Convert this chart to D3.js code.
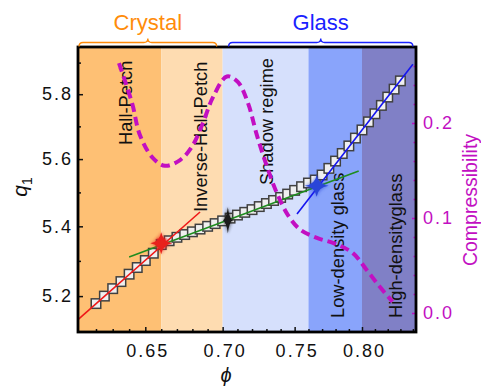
<!DOCTYPE html>
<html>
<head>
<meta charset="utf-8">
<script src="https://cdn.jsdelivr.net/npm/d3@7"></script>
<style>
  html, body { margin: 0; padding: 0; background: #fff; }
  svg { display: block; }
  text { font-family: "Liberation Sans", Arial, Helvetica, sans-serif; }
</style>
</head>
<body>
<svg id="chart" width="481" height="386"></svg>
<script>
// ---------------- data ----------------
const phiValues = [0.620,0.625,0.630,0.635,0.640,0.645,0.650,0.655,0.660,0.665,0.670,0.675,0.680,0.685,0.690,0.695,0.700,0.705,0.710,0.715,0.720,0.725,0.730,0.735,0.740,0.745,0.750,0.755,0.760,0.765,0.770,0.775,0.780,0.785,0.790,0.795,0.800,0.805,0.810,0.815,0.820,0.825,0.830];
const q1Values = [5.179,5.200,5.221,5.241,5.262,5.281,5.301,5.322,5.347,5.358,5.368,5.376,5.384,5.392,5.400,5.408,5.416,5.424,5.433,5.441,5.449,5.458,5.467,5.476,5.485,5.495,5.506,5.517,5.528,5.537,5.552,5.572,5.594,5.617,5.640,5.664,5.689,5.714,5.739,5.765,5.791,5.816,5.842];

const compPhi = [0.6338,0.6418,0.6467,0.6548,0.6624,0.6720,0.6797,0.6869,0.6935,0.7029,0.7104,0.7172,0.7234,0.7304,0.7374,0.7452,0.7538,0.7662,0.7795,0.7931,0.8038,0.8141,0.8237];
const compValues = [0.263,0.221,0.187,0.163,0.155,0.161,0.175,0.200,0.227,0.249,0.243,0.221,0.187,0.154,0.126,0.103,0.088,0.079,0.073,0.063,0.045,0.027,0.012];

const redFitPhi = [0.6094, 0.685];
const redFitQ = [5.134, 5.442];
const greenFitPhi = [0.640, 0.7975];
const greenFitQ = [5.311, 5.564];
const blueFitPhi = [0.7517, 0.840];
const blueFitQ = [5.436, 5.895];

const starPhi = [0.660, 0.7035, 0.766];
const starQ = [5.351, 5.418, 5.520];

const regimeBounds = [0.6094, 0.66, 0.70, 0.76, 0.80, 0.8425];
const regimeNames = ["Hall-Petch", "Inverse-Hall-Petch", "Shadow regime", "Low-density glass", "High-densityglass"];
const phaseNames = ["Crystal", "Glass"];
const phaseRanges = [[0.6100, 0.6960], [0.7040, 0.8400]];

const xMajorTicks = [0.65, 0.70, 0.75, 0.80];
const xMinorTicks = [0.62,0.63,0.64,0.66,0.67,0.68,0.69,0.71,0.72,0.73,0.74,0.76,0.77,0.78,0.79,0.81,0.82,0.83,0.84];
const yMajorTicks = [5.2, 5.4, 5.6, 5.8];
const yMinorTicks = [5.3, 5.5, 5.7, 5.9];
const y2MajorTicks = [0.0, 0.1, 0.2];
const y2MinorTicks = [0.02,0.04,0.06,0.08,0.12,0.14,0.16,0.18,0.22,0.24,0.26];

// ---------------- styles ----------------
const bandColors = ["#fec074", "#fedcb1", "#d6e0fc", "#89a4fb", "#8080c6"];
const phaseColors = ["#ff8c0a", "#1a22ff"];
const magenta = "#c20fc2";

const L = 78, R = 416, T = 47, B = 332;

const svg = d3.select("#chart");
const defs = svg.append("defs");
defs.append("filter").attr("id", "blur").attr("x", "-50%").attr("y", "-50%").attr("width", "200%").attr("height", "200%")
  .append("feGaussianBlur").attr("stdDeviation", 1.8);
defs.append("filter").attr("id", "soft").attr("x", "-50%").attr("y", "-50%").attr("width", "200%").attr("height", "200%")
  .append("feGaussianBlur").attr("stdDeviation", 0.5);

const x = d3.scaleLog().domain([0.6094, 0.8425]).range([L, R]);
const y = d3.scaleLog().domain([5.10, 5.95]).range([B, T]);
const y2 = d3.scaleLinear().domain([-0.02, 0.28]).range([B, T]);

// bands
const bands = svg.append("g");
for (let i = 0; i < regimeNames.length; i++) {
  bands.append("rect")
    .attr("x", x(regimeBounds[i]))
    .attr("y", T)
    .attr("width", x(regimeBounds[i + 1]) - x(regimeBounds[i]))
    .attr("height", B - T)
    .attr("fill", bandColors[i]);
}

// regime labels (rotated)
const labelSpecs = [
  { phi: 0.6415, y: 145, anchor: "start" },
  { phi: 0.6896, y: 212, anchor: "start" },
  { phi: 0.7348, y: 185, anchor: "start" },
  { phi: 0.7863, y: 318, anchor: "start" },
  { phi: 0.8311, y: 318, anchor: "start" }
];
regimeNames.forEach((name, i) => {
  const s = labelSpecs[i];
  svg.append("text")
    .attr("transform", `translate(${x(s.phi)},${s.y}) rotate(-90)`)
    .attr("text-anchor", s.anchor)
    .attr("font-size", 18.3)
    .attr("fill", "#111")
    .text(name);
});

// squares
const sq = 9.5;
svg.append("g").selectAll("rect")
  .data(phiValues.map((p, i) => [p, q1Values[i]]))
  .join("rect")
  .attr("x", d => x(d[0]) - sq / 2)
  .attr("y", d => y(d[1]) - sq / 2)
  .attr("width", sq).attr("height", sq)
  .attr("fill", "#efefef")
  .attr("stroke", "#404040")
  .attr("stroke-width", 1.5);

// fit lines
const line = d3.line().x(d => x(d[0])).y(d => y(d[1]));
[[redFitPhi, redFitQ, "#f01818"], [greenFitPhi, greenFitQ, "#1f8c1f"], [blueFitPhi, blueFitQ, "#1414f0"]]
  .forEach(([ps, qs, c]) => {
    svg.append("path")
      .attr("d", line(ps.map((p, i) => [p, qs[i]])))
      .attr("stroke", c).attr("stroke-width", 1.6).attr("fill", "none");
  });

// stars
function sparkle(rx, ry, w) {
  return `M0,${-ry} Q${w},${-w} ${rx},0 Q${w},${w} 0,${ry} Q${-w},${w} ${-rx},0 Q${-w},${-w} 0,${-ry} Z`;
}
const starStyles = [
  { color: "#e8201c", parts: [[11, 11, 1.6, 0], [7, 7, 1.2, 45]] },
  { color: "#1a1a1a", parts: [[5, 13, 1.4, 0]] },
  { color: "#2a45d8", parts: [[12, 11, 1.3, 0]] }
];
starPhi.forEach((p, i) => {
  const g = svg.append("g").attr("transform", `translate(${x(p)},${y(starQ[i])})`);
  const st = starStyles[i];
  st.parts.forEach(([rx, ry, w, rot]) => {
    g.append("path").attr("d", sparkle(rx, ry, w * 2.5)).attr("transform", `rotate(${rot})`)
      .attr("fill", st.color).attr("opacity", 0.45).attr("filter", "url(#blur)");
    g.append("path").attr("d", sparkle(rx, ry, w)).attr("transform", `rotate(${rot})`)
      .attr("fill", st.color).attr("filter", "url(#soft)");
  });
});

// compressibility dashed curve
const cLine = d3.line().x(d => x(d[0])).y(d => y2(d[1])).curve(d3.curveCatmullRom.alpha(0.5));
svg.append("path")
  .attr("d", cLine(compPhi.map((p, i) => [p, compValues[i]])))
  .attr("fill", "none").attr("stroke", magenta).attr("stroke-width", 4)
  .attr("stroke-dasharray", "9,5");

// axes
const tickFont = 18;
function styleAxis(g, color) {
  g.select(".domain").remove();
  g.selectAll("line").attr("stroke", color).attr("stroke-width", 1.5);
  g.selectAll("text").attr("font-size", tickFont).attr("font-family", "Liberation Sans, Arial, sans-serif")
    .attr("letter-spacing", "2px").attr("fill", color);
}
// left
svg.append("g").attr("transform", `translate(${L},0)`)
  .call(d3.axisLeft(y).tickValues(yMajorTicks).tickSize(-5).tickPadding(5).tickFormat(d3.format(".1f")))
  .call(g => styleAxis(g, "#111"));
svg.append("g").attr("transform", `translate(${L},0)`)
  .call(d3.axisLeft(y).tickValues(yMinorTicks).tickSize(-3).tickFormat(""))
  .call(g => styleAxis(g, "#111"));
// bottom
svg.append("g").attr("transform", `translate(0,${B})`)
  .call(d3.axisBottom(x).tickValues(xMajorTicks).tickSize(-5).tickPadding(12).tickFormat(d3.format(".2f")))
  .call(g => { styleAxis(g, "#111"); g.selectAll("text").attr("dx", "2"); });
svg.append("g").attr("transform", `translate(0,${B})`)
  .call(d3.axisBottom(x).tickValues(xMinorTicks).tickSize(-3).tickFormat(""))
  .call(g => styleAxis(g, "#111"));
// right
svg.append("g").attr("transform", `translate(${R},0)`)
  .call(d3.axisRight(y2).tickValues(y2MajorTicks).tickSize(-4).tickPadding(7).tickFormat(d3.format(".1f")))
  .call(g => styleAxis(g, magenta));
svg.append("g").attr("transform", `translate(${R},0)`)
  .call(d3.axisRight(y2).tickValues(y2MinorTicks).tickSize(-2.5).tickFormat(""))
  .call(g => styleAxis(g, magenta));

// frame
svg.append("rect").attr("x", L).attr("y", T).attr("width", R - L).attr("height", B - T)
  .attr("fill", "none").attr("stroke", "#000").attr("stroke-width", 2.8);

// phase braces and names
function brace(x0, x1, y0) {
  const xm = (x0 + x1) / 2, r = 4;
  return `M${x0},${y0 + r} Q${x0},${y0} ${x0 + r},${y0} L${xm - r},${y0} Q${xm},${y0} ${xm},${y0 - r} ` +
         `Q${xm},${y0} ${xm + r},${y0} L${x1 - r},${y0} Q${x1},${y0} ${x1},${y0 + r}`;
}
phaseNames.forEach((n, i) => {
  const x0 = x(phaseRanges[i][0]), x1 = x(phaseRanges[i][1]);
  svg.append("path").attr("d", brace(x0, x1, 42.5)).attr("fill", "none")
    .attr("stroke", phaseColors[i]).attr("stroke-width", 1.3);
  svg.append("text").attr("x", (x0 + x1) / 2).attr("y", 29.5).attr("text-anchor", "middle")
    .attr("font-size", 22).attr("fill", phaseColors[i]).text(n);
});

// axis titles
const qt = svg.append("text").attr("transform", "translate(27,187) rotate(-90)")
  .attr("text-anchor", "middle").attr("font-size", 21).attr("fill", "#111");
qt.append("tspan").attr("font-style", "italic").text("q");
qt.append("tspan").attr("font-size", 14).attr("dy", 5).text("1");

svg.append("text").attr("x", 226).attr("y", 382).attr("text-anchor", "middle")
  .attr("font-size", 20).attr("font-style", "italic").attr("fill", "#111").text("ϕ");

svg.append("text").attr("transform", "translate(477,200) rotate(-90)")
  .attr("text-anchor", "middle").attr("font-size", 19.5).attr("fill", magenta).text("Compressibility");
</script>
</body>
</html>
